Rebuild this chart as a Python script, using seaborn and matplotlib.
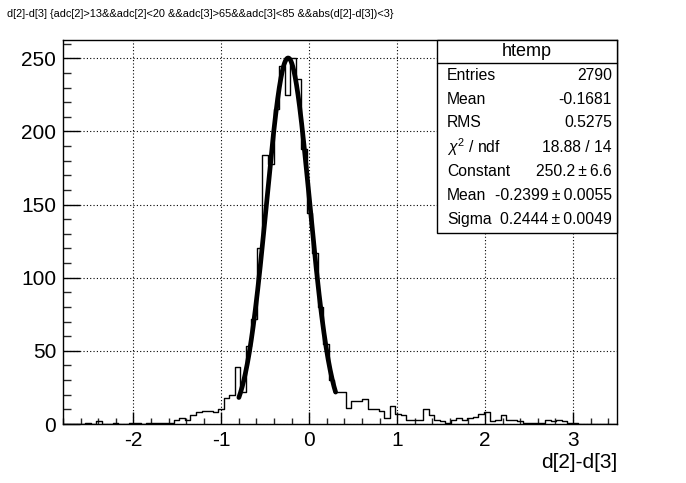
import numpy as np
import pandas as pd
import matplotlib
matplotlib.use("Agg")
import matplotlib.pyplot as plt
from matplotlib.patches import Rectangle
from matplotlib.ticker import MultipleLocator
import seaborn as sns

# ---- histogram "htemp": 100 bins on [-2.8, 3.5] ----
x_low, x_high, n_bins = -2.8, 3.5, 100
counts = [
    0, 0, 0, 0, 1, 0, 2, 0, 0, 1,          # 0-9
    0, 0, 1, 1, 0, 1, 1, 1, 1, 1,          # 10-19
    3, 4, 3, 6, 8, 9, 9, 8, 10, 18,        # 20-29
    20, 39, 22, 53, 72, 120, 184, 178, 215, 245,   # 30-39
    225, 250, 236, 188, 144, 117, 80, 55, 30, 22,  # 40-49
    22, 11, 16, 16, 17, 10, 10, 9, 4, 12,  # 50-59
    7, 6, 3, 3, 3, 10, 6, 3, 2, 1,         # 60-69
    3, 4, 3, 4, 5, 7, 8, 2, 3, 6,          # 70-79
    3, 3, 2, 1, 1, 1, 1, 3, 2, 3,          # 80-89
    2, 1, 1, 0, 0, 0, 0, 0, 0, 0,          # 90-99
]

# gaussian fit result and its range
fit_constant, fit_mean, fit_sigma = 250.2, -0.2399, 0.2444
fit_range = (-0.80, 0.30)

title_text = "d[2]-d[3] {adc[2]>13&&adc[2]<20 &&adc[3]>65&&adc[3]<85 &&abs(d[2]-d[3])<3}"
x_label = "d[2]-d[3]"
x_major_ticks = [-2, -1, 0, 1, 2, 3]
y_major_ticks = [0, 50, 100, 150, 200, 250]

stats_title = "htemp"
stats_names = ["Entries", "Mean", "RMS", r"$\chi^{2}$ / ndf", "Constant", "Mean", "Sigma"]
stats_values = ["2790", "-0.1681", "0.5275", "18.88 / 14",
                "250.2\u2009\u00b1\u20096.6", "-0.2399\u2009\u00b1\u20090.0055",
                "0.2444\u2009\u00b1\u20090.0049"]

# ---- style ----
sns.set_theme(style="white")
plt.rcParams["font.family"] = ["Liberation Sans", "DejaVu Sans"]
plt.rcParams["mathtext.fontset"] = "custom"
plt.rcParams["mathtext.rm"] = "Liberation Sans"
plt.rcParams["mathtext.it"] = "Liberation Sans:italic"
plt.rcParams["axes.unicode_minus"] = False

W, H = 686, 483
fig = plt.figure(figsize=(W / 100, H / 100), dpi=100, facecolor="white")

def fx(px):
    return px / W

def fy(py):
    return 1 - py / H

frame_l, frame_r, frame_t, frame_b = 63, 617, 40, 424
ax = fig.add_axes([fx(frame_l), fy(frame_b), fx(frame_r - frame_l), (frame_b - frame_t) / H])
ax.set_facecolor("white")

edges = np.linspace(x_low, x_high, n_bins + 1)
centers = 0.5 * (edges[:-1] + edges[1:])
df = pd.DataFrame({"x": centers, "w": np.asarray(counts, dtype=float)})

sns.histplot(data=df, x="x", weights="w", bins=n_bins, binrange=(x_low, x_high),
             element="step", fill=False, color="black", linewidth=1.0, ax=ax, zorder=3)

xs = np.linspace(fit_range[0], fit_range[1], 300)
ys = fit_constant * np.exp(-0.5 * ((xs - fit_mean) / fit_sigma) ** 2)
sns.lineplot(x=xs, y=ys, color="black", linewidth=3.4, ax=ax, zorder=4)

ax.set_xlim(x_low, x_high)
ax.set_ylim(0, 262.5)
ax.set_xticks(x_major_ticks)
ax.set_yticks(y_major_ticks)
ax.xaxis.set_minor_locator(MultipleLocator(0.2))
ax.yaxis.set_minor_locator(MultipleLocator(10))
ax.grid(True, which="major", color="black", linestyle=(0, (1, 2)), linewidth=0.8, zorder=1)
ax.set_axisbelow(True)

ax.tick_params(axis="x", which="major", direction="in", length=8.3, width=1.0,
               labelsize=15, pad=5, colors="black", bottom=True, top=False)
ax.tick_params(axis="x", which="minor", direction="in", length=4.2, width=1.0,
               bottom=True, top=False)
ax.tick_params(axis="y", which="major", direction="in", length=12, width=1.0,
               labelsize=15, pad=5, colors="black", left=True, right=False)
ax.tick_params(axis="y", which="minor", direction="in", length=6, width=1.0,
               left=True, right=False)
for s in ax.spines.values():
    s.set_color("black")
    s.set_linewidth(1.0)
    s.set_visible(True)
ax.set_xlabel("")
ax.set_ylabel("")

# axis title at the right end of the x axis
fig.text(fx(frame_r), fy(462), x_label, ha="right", va="center", fontsize=15, color="black")

# histogram title
fig.text(fx(7), fy(14), title_text, ha="left", va="center", fontsize=7.9, color="black")

# ---- statistics box ----
box_l, box_r, box_t, box_b, head_b = 437, 617, 40, 233, 63
fig.patches.append(Rectangle((fx(box_l), fy(box_b)), fx(box_r - box_l), (box_b - box_t) / H,
                             transform=fig.transFigure, facecolor="white",
                             edgecolor="black", linewidth=1.0, zorder=10))
fig.lines.append(plt.Line2D([fx(box_l), fx(box_r)], [fy(head_b), fy(head_b)],
                            transform=fig.transFigure, color="black", linewidth=1.0, zorder=11))
fig.text(fx((box_l + box_r) / 2), fy(51.5), stats_title, ha="center", va="center",
         fontsize=13, color="black", zorder=12)
row_y = [76, 99.5, 123, 147, 172, 196, 219]
for name, val, yy in zip(stats_names, stats_values, row_y):
    fig.text(fx(447), fy(yy), name, ha="left", va="center", fontsize=11.3, color="black", zorder=12)
    fig.text(fx(612), fy(yy), val, ha="right", va="center", fontsize=11.3, color="black", zorder=12)

fig.savefig("out.png", dpi=100, facecolor="white")
